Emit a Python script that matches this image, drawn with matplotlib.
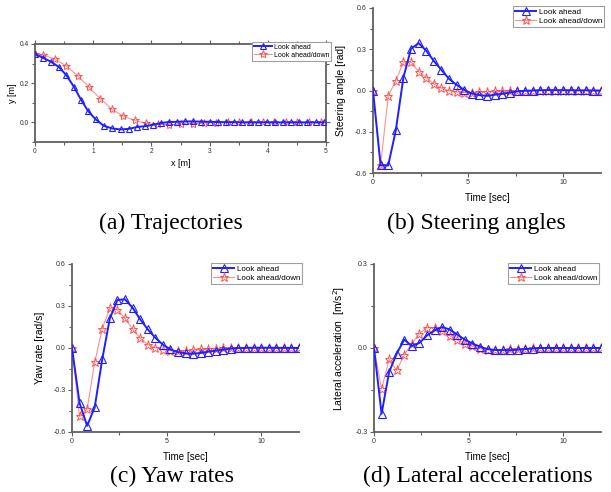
import matplotlib
matplotlib.use('Agg')
import matplotlib.pyplot as plt
from matplotlib.ticker import MultipleLocator

# ---------------------------------------------------------------------------
# (a) trajectories
traj_x_ahead = [0, 0.13, 0.27, 0.41, 0.54, 0.67, 0.79, 0.91, 1.04, 1.18, 1.33, 1.47,
                1.61, 1.75, 1.89, 2.03, 2.17, 2.30, 2.44, 2.58, 2.72, 2.86, 3.00, 3.14,
                3.28, 3.42, 3.56, 3.70, 3.84, 3.98, 4.12, 4.26, 4.40, 4.54, 4.68, 4.82, 4.96]
traj_y_ahead = [0.348, 0.331, 0.31, 0.283, 0.24, 0.181, 0.116, 0.059, 0.016, -0.017, -0.031,
                -0.036, -0.033, -0.024, -0.019, -0.012, -0.003, 0.002, 0.003, 0.005, 0.005,
                0.004, 0.003, 0.002, 0.001, 0.001, 0, 0, 0, 0, 0, 0, 0, 0, 0, 0, 0]
traj_x_down = [0, 0.14, 0.34, 0.54, 0.74, 0.93, 1.12, 1.32, 1.51, 1.71, 1.91, 2.11, 2.31,
               2.51, 2.71, 2.91, 3.11, 3.31, 3.51, 3.71, 3.91, 4.11, 4.31, 4.51, 4.71, 4.91]
traj_y_down = [0.348, 0.345, 0.322, 0.288, 0.236, 0.179, 0.121, 0.067, 0.033, 0.01, -0.005,
               -0.01, -0.012, -0.01, -0.007, -0.003, -0.001, 0, 0.001, 0.001, 0.001, 0, 0,
               0, 0, 0]

# time axis shared by (b), (c), (d)
time = [0, 0.4, 0.8, 1.2, 1.6, 2.0, 2.4, 2.8, 3.2, 3.6, 4.0, 4.4, 4.8, 5.2, 5.6, 6.0,
        6.4, 6.8, 7.2, 7.6, 8.0, 8.4, 8.8, 9.2, 9.6, 10.0, 10.4, 10.8, 11.2, 11.6, 12.0]

# (b) steering angles
steer_ahead = [0, -0.545, -0.545, -0.29, 0.094, 0.303, 0.344, 0.29, 0.215, 0.15, 0.085,
               0.041, 0.005, -0.022, -0.034, -0.039, -0.031, -0.024, -0.015, -0.007,
               -0.002, 0.0, 0.002, 0.003, 0.003, 0.002, 0.002, 0.001, 0.001, 0, 0]
steer_down = [0, -0.545, -0.04, 0.07, 0.206, 0.206, 0.138, 0.094, 0.048, 0.017, 0.0,
              -0.012, -0.015, -0.015, -0.012, -0.01, -0.007, -0.005, -0.003, -0.002,
              -0.001, 0, 0, 0, 0, 0, 0, 0, 0, 0, 0]

# (c) yaw rates
yaw_ahead = [0, -0.393, -0.556, -0.424, -0.079, 0.211, 0.343, 0.348, 0.288, 0.206, 0.134,
             0.074, 0.024, -0.01, -0.029, -0.038, -0.041, -0.036, -0.026, -0.019, -0.012,
             -0.005, -0.001, 0.001, 0.002, 0.002, 0.002, 0.001, 0.001, 0.001, 0]
yaw_down = [0, -0.489, -0.436, -0.103, 0.139, 0.283, 0.273, 0.211, 0.134, 0.072, 0.024,
            0.002, -0.012, -0.019, -0.022, -0.019, -0.014, -0.01, -0.007, -0.005, -0.002,
            0, 0, 0, 0, 0, 0, 0, 0, 0, 0]

# (d) lateral accelerations
lat_ahead = [0, -0.235, -0.086, -0.02, 0.03, 0.007, 0.018, 0.045, 0.063, 0.075, 0.066,
             0.048, 0.03, 0.016, 0.005, -0.004, -0.007, -0.008, -0.008, -0.006, -0.004,
             -0.002, 0, 0, 0, 0, 0, 0, 0, 0, 0]
lat_down = [0, -0.146, -0.041, -0.08, -0.024, 0.016, 0.051, 0.073, 0.073, 0.061, 0.044,
            0.029, 0.016, 0.006, -0.002, -0.006, -0.006, -0.006, -0.005, -0.004, -0.002,
            0, 0, 0, 0, 0, 0, 0, 0, 0, 0]

labels = ['Look ahead', 'Look ahead/down']
captions = ['(a) Trajectories', '(b) Steering angles', '(c) Yaw rates', '(d) Lateral accelerations']

#----------------------------------------------------------------------------
W, H = 611., 492.
blue = '#2020ff'
red = '#ff5050'
spine_col = '#606060'

plt.rcParams['font.family'] = ['Liberation Sans', 'DejaVu Sans']

fig = plt.figure(figsize=(W / 100, H / 100), dpi=100)


def box(l, r, t, b):
    return [l / W, 1 - b / H, (r - l) / W, (b - t) / H]


def draw(ax, x1, y1, x2, y2, ms=5.5):
    ax.plot(x1, y1, color=blue, lw=1.4, marker='^', ms=ms, mfc='none', mec=blue, mew=0.8,
            label=labels[0], zorder=3)
    ax.plot(x2, y2, color='#ff9090', lw=0.8, marker='*', ms=ms + 1, mfc='none', mec=red, mew=0.7,
            label=labels[1], zorder=2)


def style(ax, fs, full=False):
    for s in ax.spines.values():
        s.set_color(spine_col)
        s.set_linewidth(1.3)
    if not full:
        ax.spines['top'].set_visible(False)
        ax.spines['right'].set_visible(False)
    ax.tick_params(which='both', direction='out', labelsize=fs, color=spine_col, width=0.8,
                   pad=1.5, labelcolor='#303030')
    ax.tick_params(which='major', length=3)
    ax.tick_params(which='minor', length=2)
    if full:
        ax.tick_params(which='both', top=True, right=True)


def legend(ax, xr, yt, fs):
    leg = ax.legend(loc='upper right', bbox_to_anchor=(xr / W, 1 - yt / H),
                    bbox_transform=fig.transFigure, borderaxespad=0, fontsize=fs,
                    frameon=True, fancybox=False, framealpha=1, edgecolor='#a0a0a0',
                    handlelength=2.6, handletextpad=0.3, labelspacing=0.15, borderpad=0.25)
    leg.get_frame().set_linewidth(0.8)


# (a)
ax = fig.add_axes(box(35, 326, 44, 142))
draw(ax, traj_x_ahead, traj_y_ahead, traj_x_down, traj_y_down, ms=5)
ax.set_xlim(0, 5)
ax.set_ylim(-0.1, 0.4)
ax.xaxis.set_major_locator(MultipleLocator(1))
ax.xaxis.set_minor_locator(MultipleLocator(0.5))
ax.yaxis.set_major_locator(MultipleLocator(0.2))
ax.yaxis.set_minor_locator(MultipleLocator(0.1))
ax.yaxis.set_major_formatter(lambda v, p: '%.1f' % v)
style(ax, 4.8, full=True)
ax.set_xlabel('x [m]', fontsize=6.5, labelpad=3)
ax.set_ylabel('y [m]', fontsize=6.5, labelpad=2)
legend(ax, 331, 42, 5)

# (b), (c), (d)
panels = [
    (box(373, 601, 8, 173), steer_ahead, steer_down, 0.6, 0.3, 'Steering angle [rad]', (604, 6)),
    (box(72, 299, 264, 432), yaw_ahead, yaw_down, 0.6, 0.3, 'Yaw rate [rad/s]', (302, 263)),
    (box(374, 601, 264, 432), lat_ahead, lat_down, 0.3, 0.3,
     'Lateral acceleration  [m/s$^2$]', (599, 263)),
]
for rect, ya, yd, lim, step, ylab, lpos in panels:
    ax = fig.add_axes(rect)
    draw(ax, time, ya, time, yd)
    ax.set_xlim(0, 12)
    ax.set_ylim(-lim, lim)
    ax.xaxis.set_major_locator(MultipleLocator(5))
    ax.xaxis.set_minor_locator(MultipleLocator(2.5))
    ax.yaxis.set_major_locator(MultipleLocator(step))
    ax.yaxis.set_minor_locator(MultipleLocator(step / 2))
    ax.yaxis.set_major_formatter(lambda v, p: '%.1f' % v)
    style(ax, 5)
    ax.set_xlabel('Time [sec]', fontsize=7, labelpad=5)
    ax.set_ylabel(ylab, fontsize=7.5, labelpad=6)
    legend(ax, lpos[0], lpos[1], 5.8)

# captions
cap_pos = [(171, 223), (476, 223), (172, 476), (478, 476)]
for txt, (cx, cy) in zip(captions, cap_pos):
    fig.text(cx / W, 1 - cy / H, txt, ha='center', va='center', fontsize=17,
             family=['Liberation Serif', 'DejaVu Serif'])

fig.savefig('out.png', dpi=100)
